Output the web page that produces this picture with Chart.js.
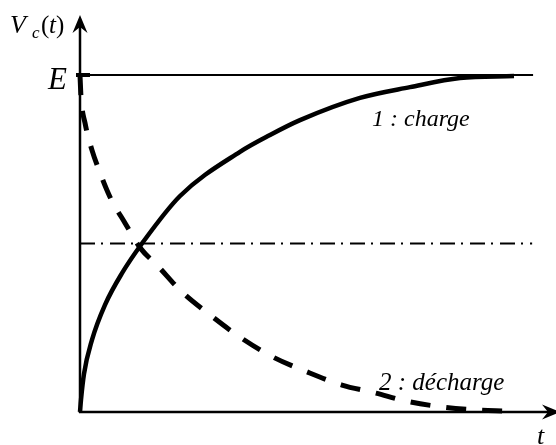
<!DOCTYPE html>
<html>
<head>
<meta charset="utf-8">
<script src="https://cdn.jsdelivr.net/npm/chart.js@4.4.0/dist/chart.umd.min.js"></script>
<style>
    html, body { margin: 0; padding: 0; background: #fff; }
    #rcChart { display: block; }
</style>
</head>
<body>
<canvas id="rcChart" width="556" height="445"></canvas>
<script>
// time axis (arbitrary units) and capacitor voltage as a fraction of E
var E = 1;
var t_charge = [0, 0.021, 0.085, 0.255, 0.532, 0.894, 1.319, 2.128, 3.404, 4.043, 4.681, 5.957, 7.021, 8.085, 9.234];
var v_charge = [0, 0.036, 0.113, 0.214, 0.318, 0.412, 0.500, 0.641, 0.772, 0.822, 0.866, 0.932, 0.964, 0.991, 0.997];

var t_decharge = [0, 0.021, 0.106, 0.255, 0.404, 0.638, 0.957, 1.298, 1.638, 2.170, 2.766, 3.426, 4.106, 4.830, 5.574, 6.298, 6.915, 7.702, 8.468, 9.043];
var v_decharge = [1, 0.935, 0.858, 0.777, 0.718, 0.638, 0.561, 0.484, 0.436, 0.356, 0.288, 0.220, 0.163, 0.119, 0.080, 0.056, 0.033, 0.015, 0.006, 0.003];

var t_level_E = [0, 9.64];
var t_level_half = [0, 9.62];

var labels_text = ["1 : charge", "2 : décharge"];

function toPoints(xs, ys) {
    return xs.map((x, i) => ({ x: x, y: ys[i] }));
}

//-------------
//- AXES + TEXT -
//-------------
var axesPlugin = {
    id: "axesArrows",
    afterDatasetsDraw(chart) {
        var ctx = chart.ctx;
        var xs = chart.scales.x;
        var ys = chart.scales.y;
        var x0 = xs.getPixelForValue(0);
        var y0 = ys.getPixelForValue(0);
        var yE = ys.getPixelForValue(E);
        var top = chart.chartArea.top;

        ctx.save();
        ctx.strokeStyle = "#000";
        ctx.fillStyle = "#000";
        ctx.lineWidth = 2.5;
        ctx.lineCap = "butt";

        // vertical axis
        ctx.beginPath();
        ctx.moveTo(x0, y0 + 1);
        ctx.lineTo(x0, top + 8);
        ctx.stroke();
        ctx.beginPath();
        ctx.moveTo(x0, top);
        ctx.lineTo(x0 - 7.5, top + 18);
        ctx.lineTo(x0, top + 12);
        ctx.lineTo(x0 + 7.5, top + 18);
        ctx.closePath();
        ctx.fill();

        // horizontal axis
        ctx.beginPath();
        ctx.moveTo(x0 - 1, y0);
        ctx.lineTo(550, y0);
        ctx.stroke();
        ctx.beginPath();
        ctx.moveTo(560, y0);
        ctx.lineTo(542, y0 - 7.5);
        ctx.lineTo(548, y0);
        ctx.lineTo(542, y0 + 7.5);
        ctx.closePath();
        ctx.fill();

        // tick at E
        ctx.lineWidth = 4;
        ctx.beginPath();
        ctx.moveTo(x0 - 4, yE);
        ctx.lineTo(x0 + 10, yE);
        ctx.stroke();

        // labels
        ctx.textBaseline = "alphabetic";
        ctx.textAlign = "left";
        ctx.font = "italic 26px 'Liberation Serif'";
        ctx.fillText("V", 10, 33);
        ctx.font = "italic 17px 'Liberation Serif'";
        ctx.fillText("c", 32, 38);
        ctx.font = "25px 'Liberation Serif'";
        ctx.fillText("(", 41, 33);
        ctx.fillText(")", 56, 33);
        ctx.font = "italic 25px 'Liberation Serif'";
        ctx.fillText("t", 49, 33);

        ctx.font = "italic 31px 'Liberation Serif'";
        ctx.fillText("E", 48, 89);

        ctx.font = "italic 24px 'Liberation Serif'";
        ctx.fillText(labels_text[0], 372, 126);
        ctx.font = "italic 25px 'Liberation Serif'";
        ctx.fillText(labels_text[1], 379, 390);

        ctx.font = "italic 26px 'Liberation Serif'";
        ctx.fillText("t", 537, 444);
        ctx.restore();
    },
};

var ctx = document.getElementById("rcChart").getContext("2d");

new Chart(ctx, {
    type: "scatter",
    data: {
        datasets: [
            {
                label: "E",
                data: toPoints(t_level_E, [E, E]),
                borderColor: "#000",
                borderWidth: 2,
                showLine: true,
                pointRadius: 0,
            },
            {
                label: "E/2",
                data: toPoints(t_level_half, [E / 2, E / 2]),
                borderColor: "#000",
                borderWidth: 2,
                borderDash: [15, 6, 2, 7],
                showLine: true,
                pointRadius: 0,
            },
            {
                label: labels_text[0],
                data: toPoints(t_charge, v_charge),
                borderColor: "#000",
                borderWidth: 4.5,
                showLine: true,
                pointRadius: 0,
                cubicInterpolationMode: "monotone",
            },
            {
                label: labels_text[1],
                data: toPoints(t_decharge, v_decharge),
                borderColor: "#000",
                borderWidth: 5,
                borderDash: [20, 16],
                borderCapStyle: "butt",
                showLine: true,
                pointRadius: 0,
                cubicInterpolationMode: "monotone",
            },
        ],
    },
    options: {
        responsive: false,
        animation: false,
        layout: { padding: { left: 80, right: 6, top: 15, bottom: 33 } },
        scales: {
            x: { type: "linear", min: 0, max: 10, display: false },
            y: { type: "linear", min: 0, max: 1.178, display: false },
        },
        plugins: {
            legend: { display: false },
            tooltip: { enabled: false },
        },
        datasets: { scatter: { clip: false } },
    },
    plugins: [axesPlugin],
});
</script>
</body>
</html>
